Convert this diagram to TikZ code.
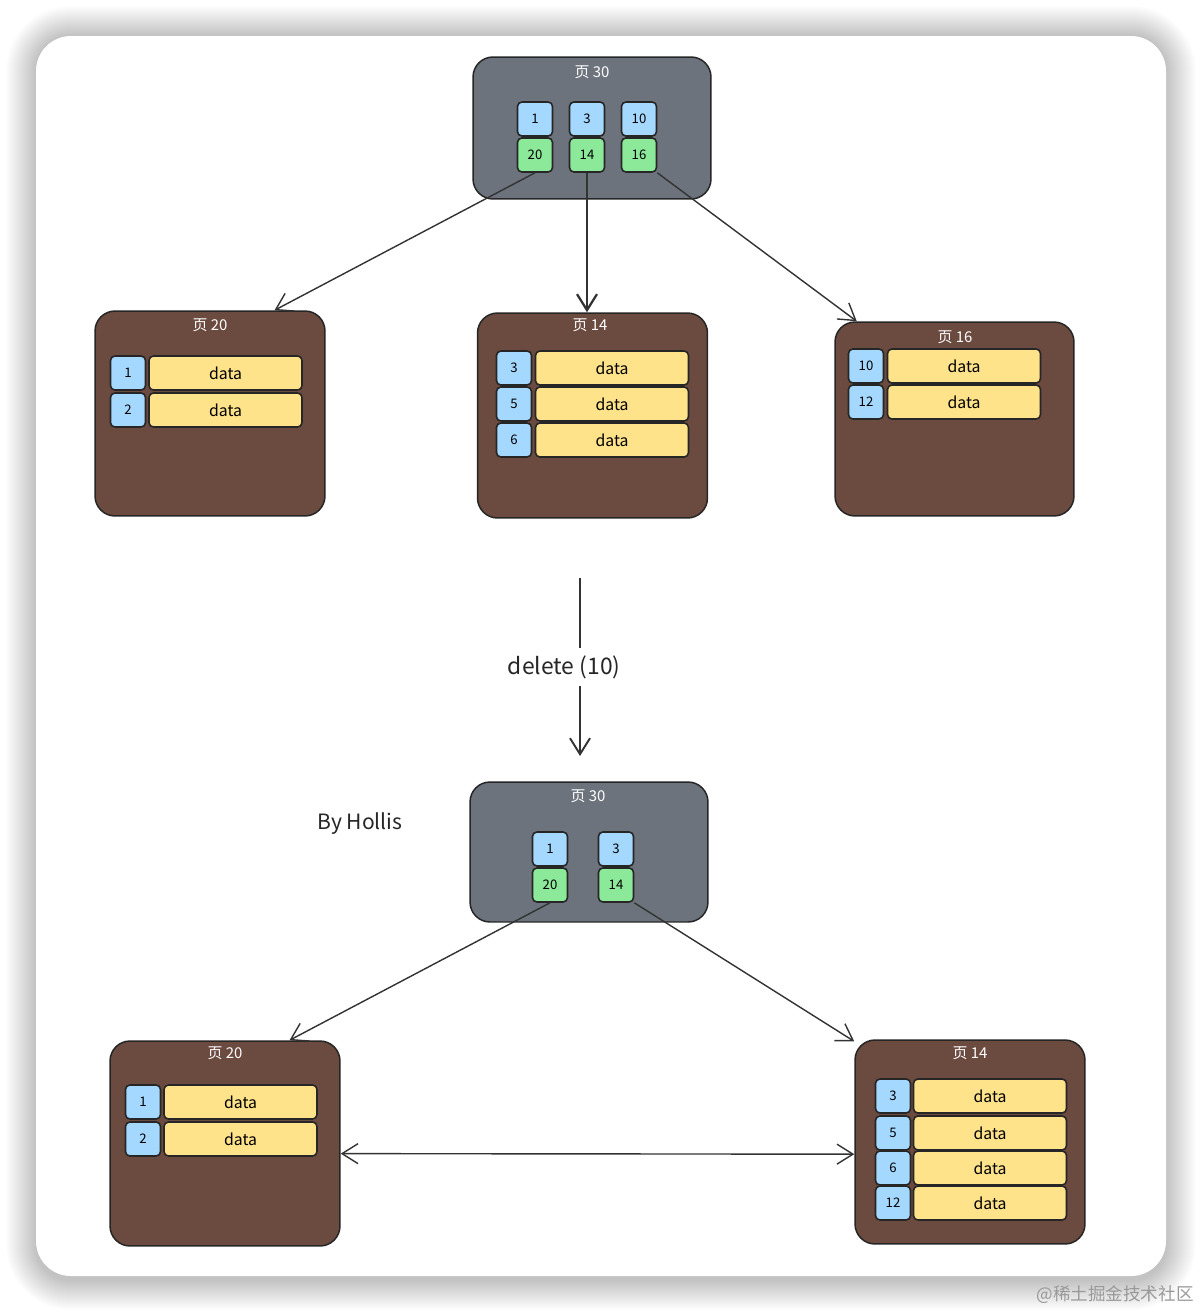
\documentclass[tikz,border=0pt]{standalone}
\usepackage{fontspec}
\setmainfont{Noto Sans CJK SC}
\usetikzlibrary{arrows.meta}
\definecolor{pagegray}{HTML}{6C737C}
\definecolor{pagebrown}{HTML}{6B4A3F}
\definecolor{keyblue}{HTML}{A5D8FF}
\definecolor{keygreen}{HTML}{8CE99A}
\definecolor{datayellow}{HTML}{FFE38A}
\tikzset{
  pagebox/.style={draw=black!85, line width=0.85pt, rounded corners=0.4cm, inner sep=0pt},
  innerpage/.style={pagebox, fill=pagegray, minimum width=4.76cm, minimum height=2.84cm},
  leafpage/.style={pagebox, fill=pagebrown, minimum width=4.6cm, minimum height=4.1cm},
  pagetitle/.style={text=white, font=\fontsize{8.5}{9}\selectfont},
  keycell/.style={draw=black!85, line width=0.9pt, rounded corners=2.5pt, inner sep=0pt,
    minimum width=0.7cm, minimum height=0.68cm, font=\fontsize{7.5}{8}\selectfont},
  datacell/.style={draw=black!85, line width=0.9pt, fill=datayellow, rounded corners=2.5pt,
    inner sep=0pt, minimum width=3.06cm, minimum height=0.68cm, font=\fontsize{9}{10}\selectfont},
  link/.style={draw=black!80, line width=0.8pt, -{Straight Barb[length=3.2mm,width=4mm]}},
}
\begin{document}
\begin{tikzpicture}[x=0.02cm, y=-0.02cm]
  \useasboundingbox (0,0) rectangle (1202,1312);
  % card and its shadow
  \fill[white] (0,0) rectangle (1202,1312);
  \foreach \i in {1,...,30}
    \fill[black, opacity=0.006, rounded corners={0.7cm+\i*0.02cm}]
      (36-\i,36-\i) rectangle (1166+\i,1280+\i);
  \fill[white, rounded corners=0.7cm] (36,36) rectangle (1166,1276);
  \node[text=black!40, font=\fontsize{10}{12}\selectfont] (mark) at (1115,1295) {@稀土掘金技术社区};

  % before the delete
  \node[innerpage] (p30) at (592,128) {};
  \node[pagetitle] at (592,72) {页 30};
  \foreach \k/\c/\x in {1/20/535,3/14/587,10/16/639} {
    \node[keycell, fill=keyblue] (kb\k) at (\x,119) {\k};
    \node[keycell, fill=keygreen] (k\c) at (\x,155) {\c};
  }

  \node[leafpage] (l20) at (210,413.5) {};
  \node[pagetitle] at (210,325) {页 20};
  \foreach \k/\y in {1/373,2/410} {
    \node[keycell, fill=keyblue] (l20k\k) at (128,\y) {\k};
    \node[datacell] (l20d\k) at (225.5,\y) {data};
  }

  \node[leafpage] (l14) at (592.5,415.5) {};
  \node[pagetitle] at (590,325) {页 14};
  \foreach \k/\y in {3/368,5/404,6/440} {
    \node[keycell, fill=keyblue] (l14k\k) at (514,\y) {\k};
    \node[datacell] (l14d\k) at (612,\y) {data};
  }

  \node[leafpage, minimum width=4.78cm, minimum height=3.88cm] (l16) at (954.5,419) {};
  \node[pagetitle] at (955,337) {页 16};
  \foreach \k/\y in {10/366,12/402} {
    \node[keycell, fill=keyblue] (l16k\k) at (866,\y) {\k};
    \node[datacell] (l16d\k) at (964,\y) {data};
  }

  \draw[link] (k20.south) -- (l20.58);
  \draw[link, line width=1.3pt] (k14.south) -- (k14.south |- l14.north);
  \draw[link] (k16.south east) -- (l16.135);

  % the delete step
  \coordinate (delA) at (580,578);
  \coordinate (delB) at (580,756);
  \draw[link, line width=1.1pt] (delA) -- node[fill=white, text=black!85, inner sep=4pt,
    font=\fontsize{13}{15}\selectfont, xshift=-9] {delete (10)} (delB);
  \node[text=black!85, font=\fontsize{12}{14}\selectfont] (author) at (360,824) {By Hollis};

  % after the delete
  \node[innerpage, minimum height=2.8cm] (q30) at (589,852) {};
  \node[pagetitle] at (588,796) {页 30};
  \foreach \k/\c/\x in {1/20/550,3/14/616} {
    \node[keycell, fill=keyblue] (qb\k) at (\x,849) {\k};
    \node[keycell, fill=keygreen] (q\c) at (\x,885) {\c};
  }

  \node[leafpage] (m20) at (225,1143.5) {};
  \node[pagetitle] at (225,1053) {页 20};
  \foreach \k/\y in {1/1102,2/1139} {
    \node[keycell, fill=keyblue] (m20k\k) at (143,\y) {\k};
    \node[datacell] (m20d\k) at (240.5,\y) {data};
  }

  \node[leafpage, minimum height=4.08cm] (m14) at (970,1142) {};
  \node[pagetitle] at (970,1053) {页 14};
  \foreach \k/\y in {3/1096,5/1133,6/1168,12/1203} {
    \node[keycell, fill=keyblue] (m14k\k) at (893,\y) {\k};
    \node[datacell] (m14d\k) at (990,\y) {data};
  }

  \draw[link] (q20.south) -- (m20.58);
  \draw[link] (q14.south east) -- (m14.139);
  \draw[link, {Straight Barb[length=3.2mm,width=4mm]}-{Straight Barb[length=3.2mm,width=4mm]}]
    (m20.-5) -- (m14.186);
\end{tikzpicture}
\end{document}
